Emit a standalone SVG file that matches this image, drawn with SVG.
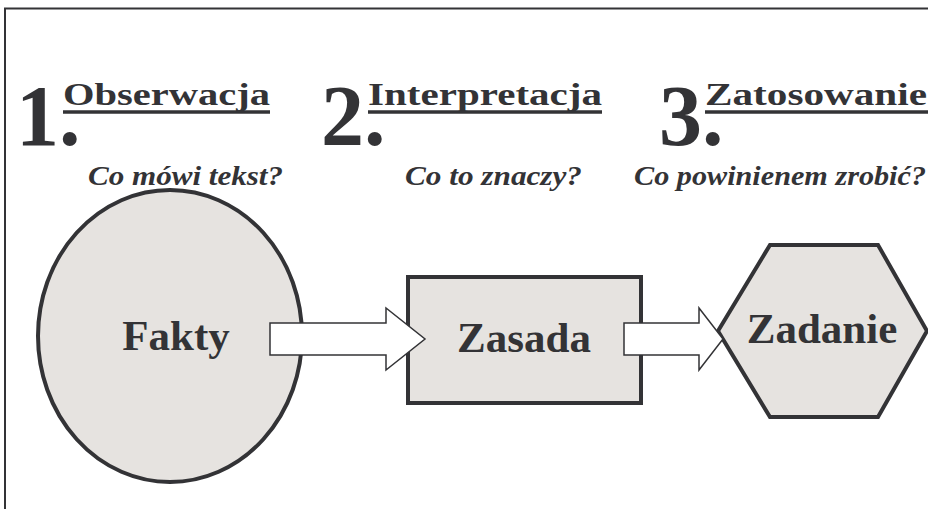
<svg xmlns="http://www.w3.org/2000/svg" width="928" height="509" viewBox="0 0 928 509">
<style>
.frame{stroke:#333336;stroke-width:2;fill:none}
.shape{fill:#e6e3e0;stroke:#333336;stroke-width:4}
.arrow{fill:#ffffff;stroke:#333336;stroke-width:1.5;stroke-linejoin:miter}
text{font-family:'Liberation Serif','Times New Roman',Times,Tinos,'Nimbus Roman',serif;font-weight:bold;fill:#333336}
.num{font-size:86px}
.head{font-size:32px}
.sub{font-style:italic;font-size:28px}
.lbl{font-size:43px;text-anchor:middle}
.ul{stroke:#333336;stroke-width:3.5}
</style>
<g id="frame">
<line class="frame" x1="4" y1="8.5" x2="928" y2="8.5"/>
<line class="frame" x1="5" y1="8" x2="5" y2="509"/>
</g>
<g id="step1">
<text class="num" x="16" y="145">1.</text>
<text class="head" x="63" y="105" textLength="207" lengthAdjust="spacingAndGlyphs">Obserwacja</text>
<line class="ul" x1="63" y1="112" x2="270" y2="112"/>
<text class="sub" x="88" y="185" textLength="195" lengthAdjust="spacingAndGlyphs">Co mówi tekst?</text>
</g>
<g id="step2">
<text class="num" x="321" y="145">2.</text>
<text class="head" x="368" y="105" textLength="234" lengthAdjust="spacingAndGlyphs">Interpretacja</text>
<line class="ul" x1="368" y1="112" x2="602" y2="112"/>
<text class="sub" x="405" y="185" textLength="177" lengthAdjust="spacingAndGlyphs">Co to znaczy?</text>
</g>
<g id="step3">
<text class="num" x="659" y="145">3.</text>
<text class="head" x="705" y="105" textLength="222" lengthAdjust="spacingAndGlyphs">Zatosowanie</text>
<line class="ul" x1="705" y1="112" x2="928" y2="112"/>
<text class="sub" x="634" y="185" textLength="292" lengthAdjust="spacingAndGlyphs">Co powinienem zrobić?</text>
</g>
<g id="fakty">
<ellipse class="shape" cx="170" cy="336" rx="132" ry="146"/>
<text class="lbl" x="176" y="350">Fakty</text>
</g>
<g id="zasada">
<rect class="shape" x="408" y="277" width="233" height="126"/>
<text class="lbl" x="524" y="352">Zasada</text>
</g>
<g id="zadanie">
<polygon class="shape" points="718,331 770,245 878,245 927,331 878,417 770,417"/>
<text class="lbl" x="822" y="343">Zadanie</text>
</g>
<g id="connectors">
<polygon class="arrow" points="270,323 386,323 386,308 425,339 386,370 386,355 270,355"/>
<polygon class="arrow" points="624,323 699,323 699,308 723,339 699,370 699,355 624,355"/>
</g>
</svg>
